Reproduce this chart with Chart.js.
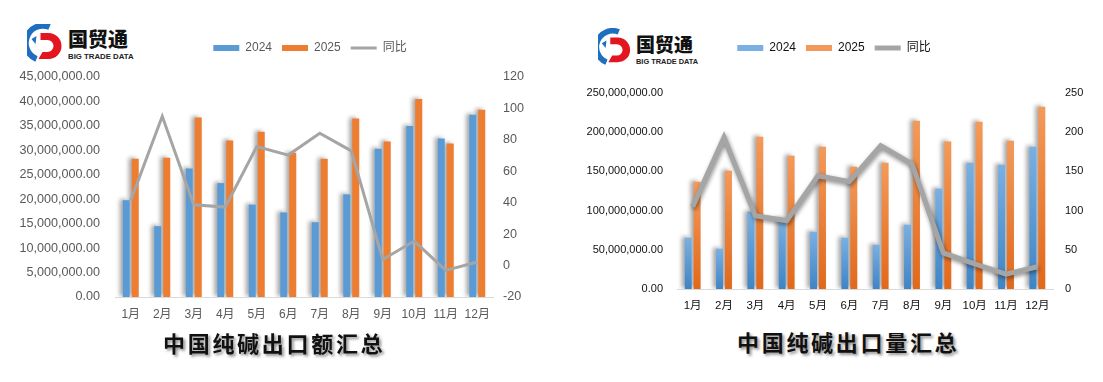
<!DOCTYPE html>
<html>
<head>
<meta charset="utf-8">
<script src="https://cdn.jsdelivr.net/npm/chart.js@4"></script>
<style>
  body { margin: 0; background: #fff; width: 1103px; height: 382px; position: relative; overflow: hidden; }
  canvas { position: absolute; }
  .logo { position: absolute; }
  .logo .cn { position: absolute; font-family: "Noto Sans CJK SC"; font-weight: 900; color: #111; white-space: nowrap; }
  .logo .en { position: absolute; font-family: "Liberation Sans", Arial; font-weight: bold; color: #222; white-space: nowrap; }
  .title { position: absolute; font-family: "Noto Sans CJK SC"; font-weight: bold; font-size: 22px; line-height: 24px;
           letter-spacing: 2.7px; color: #111; text-shadow: 2px 2px 3px rgba(0,0,0,0.45); white-space: nowrap; }
</style>
</head>
<body>

<div class="logo" style="left:27px; top:24px;">
  <svg width="37" height="40" viewBox="0 0 36 40" style="position:absolute; left:0; top:0;">
    <path d="M22 3 A17 17 0 0 0 9 35" stroke="#1f6fc1" stroke-width="6" fill="none"/>
    <path d="M9 12 L8 20 L4 15 Z" fill="#1f6fc1"/>
    <path d="M13 9 L21 9 A11 11 0 0 1 21 35 L11 35 L15 28 L20 28 A5 5 0 0 0 20 16 L13 16 Z" fill="#e3151f"/>
  </svg>
  <div class="cn" style="left:41px; top:4px; font-size:20px; line-height:22px;">国贸通</div>
  <div class="en" style="left:41px; top:28px; font-size:7.8px; line-height:9px;">BIG TRADE DATA</div>
</div>

<div class="logo" style="left:598px; top:28px;">
  <svg width="34" height="40" viewBox="0 0 36 40" style="position:absolute; left:0; top:0;">
    <path d="M22 3 A17 17 0 0 0 9 35" stroke="#1f6fc1" stroke-width="6" fill="none"/>
    <path d="M9 12 L8 20 L4 15 Z" fill="#1f6fc1"/>
    <path d="M13 9 L21 9 A11 11 0 0 1 21 35 L11 35 L15 28 L20 28 A5 5 0 0 0 20 16 L13 16 Z" fill="#e3151f"/>
  </svg>
  <div class="cn" style="left:38px; top:5px; font-size:19px; line-height:21px;">国贸通</div>
  <div class="en" style="left:38px; top:29px; font-size:7.4px; line-height:9px;">BIG TRADE DATA</div>
</div>

<canvas id="amountChart" width="620" height="330" style="left:0; top:0;"></canvas>
<canvas id="volumeChart" width="538" height="322" style="left:565px; top:0;"></canvas>

<div class="title" style="left:163px; top:330px;">中国纯碱出口额汇总</div>
<div class="title" style="left:737px; top:329px;">中国纯碱出口量汇总</div>

<script>
const months = ['1月', '2月', '3月', '4月', '5月', '6月', '7月', '8月', '9月', '10月', '11月', '12月'];
const seriesNames = ['2024', '2025', '同比'];

// 出口额
const amount2024 = [19800000, 14500000, 26300000, 23300000, 18900000, 17300000, 15300000, 21000000, 30300000, 35000000, 32400000, 37300000];
const amount2025 = [28300000, 28500000, 36700000, 32000000, 33800000, 29500000, 28300000, 36500000, 31800000, 40500000, 31400000, 38300000];
const amountYoy = [41.5, 95, 38.7, 37.2, 75.8, 70.3, 84.2, 73, 3.9, 15.6, -3.1, 2.3];

// 出口量
const volume2024 = [65400000, 51400000, 98600000, 90000000, 73000000, 65400000, 56500000, 82000000, 128000000, 161000000, 158500000, 181500000];
const volume2025 = [136900000, 150900000, 194300000, 170000000, 181500000, 156000000, 161000000, 214700000, 188000000, 213400000, 189000000, 232500000];
const volumeYoy = [105, 193.4, 93.5, 87, 144.5, 137, 182.8, 159.4, 46, 32, 19, 28.4];

const fontFamily = '"Liberation Sans", "Noto Sans CJK SC", sans-serif';

const money = (v) => Number(v).toLocaleString('en-US', { minimumFractionDigits: 2, maximumFractionDigits: 2 });

// legend gap: push plot area down below legend
const legendGap = {
  id: 'legendGap',
  beforeInit(chart, args, opts) {
    const fit = chart.legend.fit;
    chart.legend.fit = function () {
      fit.call(this);
      this.height += opts.gap || 0;
    };
  }
};

// soft shadows like the excel bars
const shadow = {
  id: 'shadow',
  beforeDatasetDraw(chart, args, opts) {
    const s = args.meta.type === 'line' ? opts.line : opts.bar;
    if (!s) return;
    const c = chart.ctx;
    c.save();
    c.shadowColor = s.color;
    c.shadowBlur = s.blur;
    c.shadowOffsetX = s.x;
    c.shadowOffsetY = s.y;
  },
  afterDatasetDraw(chart, args, opts) {
    const s = args.meta.type === 'line' ? opts.line : opts.bar;
    if (s) chart.ctx.restore();
  }
};

const barGradient = (top, bottom) => (ctx) => {
  const chart = ctx.chart;
  const area = chart.chartArea;
  if (!area || ctx.raw === undefined) return bottom;
  const y = chart.scales.y.getPixelForValue(ctx.raw);
  const g = chart.ctx.createLinearGradient(0, y, 0, area.bottom);
  g.addColorStop(0, top);
  g.addColorStop(1, bottom);
  return g;
};

function makeChart(id, cfg) {
  const textColor = cfg.textColor;
  new Chart(document.getElementById(id), {
    type: 'bar',
    data: {
      labels: months,
      datasets: [
        {
          label: seriesNames[0],
          data: cfg.a,
          backgroundColor: cfg.blue,
          pointStyle: 'rect',
          order: 1,
          categoryPercentage: 0.57,
          barPercentage: 0.78
        },
        {
          label: seriesNames[1],
          data: cfg.b,
          backgroundColor: cfg.orange,
          pointStyle: 'rect',
          order: 1,
          categoryPercentage: 0.57,
          barPercentage: 0.78
        },
        {
          type: 'line',
          label: seriesNames[2],
          data: cfg.yoy,
          yAxisID: 'y1',
          borderColor: '#A5A5A5',
          backgroundColor: '#A5A5A5',
          borderWidth: cfg.lineWidth,
          pointRadius: 0,
          pointStyle: 'line',
          tension: 0,
          order: 0
        }
      ]
    },
    options: {
      responsive: false,
      devicePixelRatio: 1,
      animation: false,
      layout: { padding: { top: 32, left: 0, right: 0, bottom: 0 } },
      plugins: {
        legend: {
          position: 'top',
          labels: {
            usePointStyle: true,
            pointStyleWidth: 26,
            boxHeight: 6,
            padding: 10,
            color: textColor,
            font: { family: fontFamily, size: 12 },
            sort: (a, b) => a.datasetIndex - b.datasetIndex
          }
        },
        tooltip: { enabled: false },
        legendGap: { gap: cfg.gap },
        shadow: cfg.shadow
      },
      scales: {
        x: {
          grid: { display: false, drawTicks: false },
          border: { display: true, color: '#D9D9D9', width: 1 },
          ticks: { color: textColor, padding: 10, font: { family: fontFamily, size: cfg.xFontSize } },
          afterFit: (s) => { s.height = 33; }
        },
        y: {
          position: 'left',
          min: 0,
          max: cfg.yMax,
          grid: { display: false, drawTicks: false },
          border: { display: false },
          ticks: { stepSize: cfg.yStep, color: textColor, padding: cfg.leftPad, font: { family: fontFamily, size: cfg.fontSize }, callback: money },
          afterFit: (s) => { s.width = cfg.leftWidth; }
        },
        y1: {
          position: 'right',
          min: cfg.y1Min,
          max: cfg.y1Max,
          grid: { display: false, drawTicks: false },
          border: { display: false },
          ticks: { stepSize: cfg.y1Step, color: textColor, padding: cfg.rightPad, font: { family: fontFamily, size: cfg.fontSize } },
          afterFit: (s) => { s.width = cfg.rightWidth; }
        }
      }
    },
    plugins: [legendGap, shadow]
  });
}

makeChart('amountChart', {
  a: amount2024, b: amount2025, yoy: amountYoy,
  blue: '#5B9BD5', orange: '#ED7D31',
  textColor: '#595959', fontSize: 12.6, xFontSize: 12, lineWidth: 3,
  yMax: 45000000, yStep: 5000000, y1Min: -20, y1Max: 120, y1Step: 20,
  leftWidth: 115, rightWidth: 127, leftPad: 15, rightPad: 10, gap: 13,
  shadow: { bar: { color: 'rgba(0,0,0,0.35)', blur: 4, x: -3, y: -1 } }
});

makeChart('volumeChart', {
  a: volume2024, b: volume2025, yoy: volumeYoy,
  blue: barGradient('#7AB0E2', '#3F84C6'), orange: barGradient('#F39A5A', '#E2681A'),
  textColor: '#111111', fontSize: 11, xFontSize: 11.5, lineWidth: 5,
  yMax: 250000000, yStep: 50000000, y1Min: 0, y1Max: 250, y1Step: 50,
  leftWidth: 112, rightWidth: 50, leftPad: 14, rightPad: 12, gap: 29,
  shadow: {
    bar: { color: 'rgba(0,0,0,0.35)', blur: 4, x: -3, y: -1 },
    line: { color: 'rgba(0,0,0,0.45)', blur: 4, x: 1, y: 2 }
  }
});
</script>
</body>
</html>
